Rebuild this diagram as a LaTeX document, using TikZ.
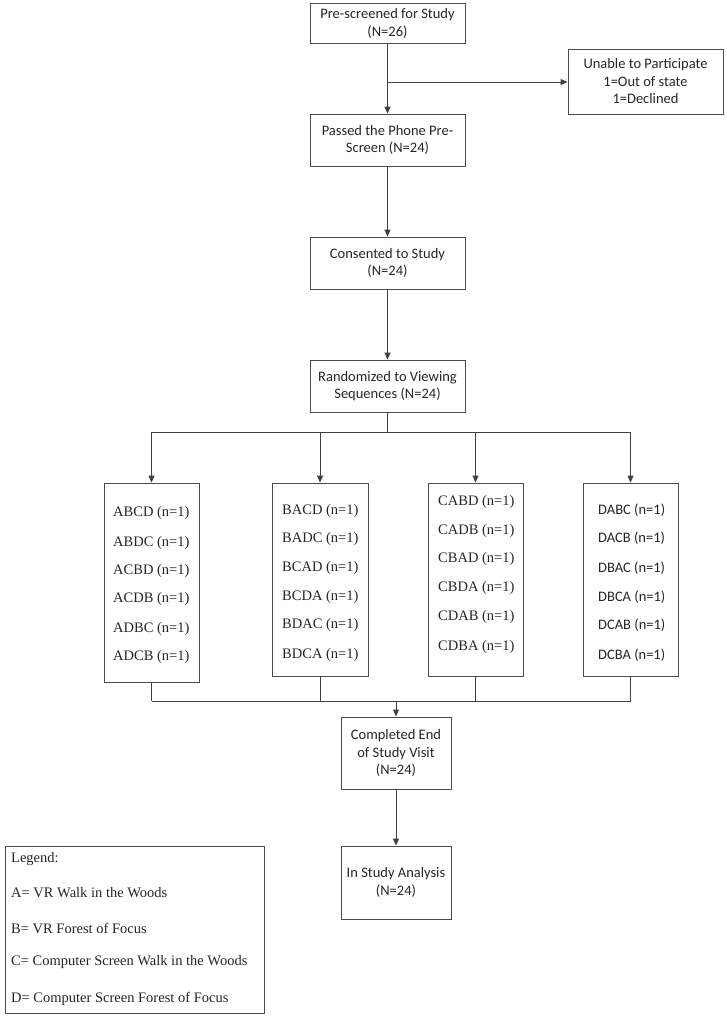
\documentclass[tikz,border=0pt]{standalone}
\usepackage{fontspec}
\setmainfont{Carlito}
\newfontfamily\serifA{Liberation Serif}
\usetikzlibrary{arrows.meta}
\begin{document}
\begin{tikzpicture}[x=1pt,y=-1pt,
 box/.style={draw=black!70, line width=0.9pt, inner sep=0pt, align=center, font=\fontsize{14.5}{17.5}\selectfont, text=black!85},
 conn/.style={draw=black!75, line width=0.9pt},
 arr/.style={conn, -{Triangle[length=7pt,width=6pt]}},
 row/.style={anchor=west, inner sep=0pt, text=black!85, font=\serifA\fontsize{14.5}{17}\selectfont},
 rowd/.style={anchor=west, inner sep=0pt, text=black!85, font=\fontsize{14.5}{17}\selectfont},
]
\useasboundingbox[fill=white] (0,0) rectangle (727,1018);

\node[box, minimum width=155pt, minimum height=40pt] (pre) at (387.5,23.5) {Pre-screened for Study\\(N=26)};
\node[box, minimum width=155pt, minimum height=65pt] (unable) at (645.5,81.5) {Unable to Participate\\1=Out of state\\1=Declined};
\node[box, minimum width=155pt, minimum height=52pt] (passed) at (387.5,140) {Passed the Phone Pre-\\Screen (N=24)};
\node[box, minimum width=155pt, minimum height=52pt] (consent) at (387.5,263) {Consented to Study\\(N=24)};
\node[box, minimum width=155pt, minimum height=52pt] (rand) at (387.5,386) {Randomized to Viewing\\Sequences (N=24)};

\node[box, minimum width=95pt, minimum height=199pt] (gA) at (151.5,582.5) {};
\node[box, minimum width=96pt, minimum height=193pt] (gB) at (320,579.5) {};
\node[box, minimum width=95pt, minimum height=193pt] (gC) at (475.5,579.5) {};
\node[box, minimum width=95pt, minimum height=193pt] (gD) at (630.5,579.5) {};

\foreach \t/\y [count=\i] in {ABCD/513,ABDC/543,ACBD/571,ACDB/599,ADBC/629,ADCB/657}
  \node[row] (a\i) at (113,\y) {\t{} (n=1)};
\foreach \t/\y [count=\i] in {BACD/511,BADC/539,BCAD/568,BCDA/597,BDAC/625,BDCA/655}
  \node[row] (b\i) at (282,\y) {\t{} (n=1)};
\foreach \t/\y [count=\i] in {CABD/502,CADB/531,CBAD/559,CBDA/588,CDAB/617,CDBA/647}
  \node[row] (c\i) at (438,\y) {\t{} (n=1)};
\foreach \t/\y [count=\i] in {DABC/510,DACB/538,DBAC/568,DBCA/597,DCAB/625,DCBA/655}
  \node[rowd] (d\i) at (598,\y) {\t{} (n=1)};

\node[box, minimum width=110pt, minimum height=72pt] (comp) at (396,753) {Completed End\\of Study Visit\\(N=24)};
\node[box, minimum width=110pt, minimum height=73pt] (ana) at (396,882.5) {In Study Analysis\\(N=24)};

\node[box, minimum width=259pt, minimum height=167pt] (leg) at (134.5,929.5) {};
\foreach \t/\y [count=\i] in {Legend:/859,A= VR Walk in the Woods/893,B= VR Forest of Focus/928,C= Computer Screen Walk in the Woods/962,D= Computer Screen Forest of Focus/999}
  \node[row] (l\i) at (11,\y) {\t};

% connectors
\coordinate (br) at (387.5,82);
\draw[conn] (pre.south) -- (br);
\draw[arr] (br) -- (passed.north);
\draw[arr] (br) -- (br -| unable.west);
\draw[arr] (passed.south) -- (consent.north);
\draw[arr] (consent.south) -- (rand.north);

\coordinate (split) at (387.5,432);
\draw[conn] (rand.south) -- (split);
\draw[conn] (gA.north |- split) -- (gD.north |- split);
\foreach \g in {gA,gB,gC,gD}
  \draw[arr] (\g.north |- split) -- (\g.north);

\coordinate (join) at (396,701);
\foreach \g in {gA,gB,gC,gD}
  \draw[conn] (\g.south) -- (\g.south |- join);
\draw[conn] (gA.south |- join) -- (gD.south |- join);
\draw[arr] (join) -- (comp.north);
\draw[arr] (comp.south) -- (ana.north);
\end{tikzpicture}
\end{document}
